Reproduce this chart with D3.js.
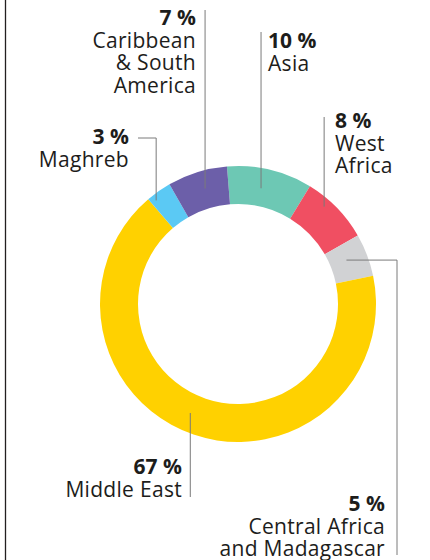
<!DOCTYPE html>
<html>
<head>
<meta charset="utf-8">
<script src="https://cdn.jsdelivr.net/npm/d3@7"></script>
<style>
  html, body { margin: 0; padding: 0; background: #fff; }
  svg { display: block; font-family: "Open Sans", sans-serif; }
</style>
</head>
<body>
<div id="chart"></div>
<script>
// data, clockwise from the top
const regions = ['Asia', 'West Africa', 'Central Africa and Madagascar', 'Middle East', 'Maghreb', 'Caribbean & South America'];
const shares = [10, 8, 5, 67, 3, 7];
const colors = ['#6dc8b4', '#f04f62', '#d1d2d4', '#ffd100', '#5bc9f4', '#6c5fa9'];
const labelLines = [['Asia'], ['West', 'Africa'], ['Central Africa', 'and Madagascar'], ['Middle East'], ['Maghreb'], ['Caribbean', '& South', 'America']];

// label placement: t = position within slice, r = radius of the leader anchor
const labelLayout = [
  { t: 0.44, r: 118, x: 268, y: 48, align: 'start', leader: 'up', to: 32 },
  { t: 0.35, r: 130, x: 335, y: 128, align: 'start', leader: 'up', to: 117 },
  { t: 0.43, r: 117, x: 385, y: 511, align: 'end', leader: 'right', toX: 397, to: 555 },
  { t: 0.52, r: 119, x: 182, y: 474, align: 'end', leader: 'down', to: 497 },
  { t: 0.21, r: 132, x: 129, y: 144, align: 'end', leader: 'left', toX: 138, to: 138 },
  { t: 0.55, r: 120, x: 196, y: 25, align: 'end', leader: 'up', to: 10 },
];

const width = 430, height = 560;
const cx = 238, cy = 304, outerR = 138, innerR = 100;
const lineH = 22.6;

const svg = d3.select('#chart').append('svg')
  .attr('width', width).attr('height', height);

svg.append('line')
  .attr('x1', 5.5).attr('x2', 5.5).attr('y1', 0).attr('y2', height)
  .attr('stroke', '#231f20').attr('stroke-width', 1.3);

const start = -0.08;
const pie = d3.pie().sort(null).startAngle(start).endAngle(start + 2 * Math.PI);
const arcs = pie(shares);
const arc = d3.arc().innerRadius(innerR).outerRadius(outerR);

const g = svg.append('g').attr('transform', `translate(${cx},${cy})`);
g.selectAll('path').data(arcs).join('path')
  .attr('d', arc)
  .attr('fill', (d, i) => colors[i]);

const leaders = svg.append('g').attr('fill', 'none').attr('stroke', '#7a7a7a').attr('stroke-width', 1);
const labels = svg.append('g').attr('fill', '#1d1d1b').attr('font-size', 21);

arcs.forEach((d, i) => {
  const L = labelLayout[i];
  const a = d.startAngle + L.t * (d.endAngle - d.startAngle);
  const px = cx + L.r * Math.sin(a);
  const py = cy - L.r * Math.cos(a);
  let pts;
  if (L.leader === 'up' || L.leader === 'down') pts = [[px, py], [px, L.to]];
  else if (L.leader === 'left') pts = [[px, py], [px, L.to], [L.toX, L.to]];
  else pts = [[px, py], [L.toX, py], [L.toX, L.to]];
  leaders.append('path').attr('d', d3.line()(pts));

  labels.append('text')
    .attr('x', L.x).attr('y', L.y)
    .attr('text-anchor', L.align)
    .attr('font-weight', 700)
    .text(`${shares[i]} %`);
  labelLines[i].forEach((s, k) => {
    labels.append('text')
      .attr('x', L.x).attr('y', L.y + (k + 1) * lineH)
      .attr('text-anchor', L.align)
      .attr('letter-spacing', 0.3)
      .text(s);
  });
});
</script>
</body>
</html>
